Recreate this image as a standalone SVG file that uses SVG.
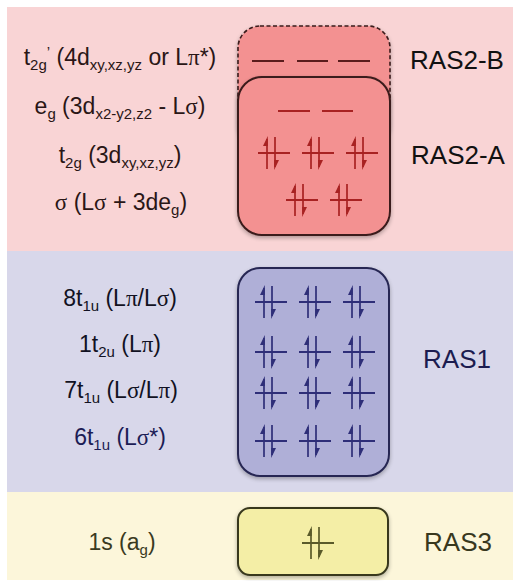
<svg xmlns="http://www.w3.org/2000/svg" xmlns:xlink="http://www.w3.org/1999/xlink" width="515" height="581" viewBox="0 0 515 581">
<style>
  .lbl { font-family: "Liberation Sans", Arial, sans-serif; font-size: 23px; text-anchor: middle; }
  .ras { font-family: "Liberation Sans", Arial, sans-serif; font-size: 26px; text-anchor: middle; }
  .gk { font-family: "Liberation Serif", "Times New Roman", serif; }
  .pink-t { fill: #2a1616; }
  .blue-t { fill: #111122; }
  .navy-t { fill: #1c1c55; }
  .olive-t { fill: #3a3a1e; }
  .box { stroke-width: 2; }
  .lvl { stroke-width: 2; fill: none; }
  .pr { stroke-width: 1.7; }
</style>
<defs>
  <filter id="sh" x="-10%" y="-10%" width="120%" height="125%">
    <feGaussianBlur in="SourceAlpha" stdDeviation="2"/>
    <feOffset dy="2"/>
    <feComponentTransfer><feFuncA type="linear" slope="0.3"/></feComponentTransfer>
    <feMerge><feMergeNode/><feMergeNode in="SourceGraphic"/></feMerge>
  </filter>
  <g id="pair">
    <line x1="-16" y1="0" x2="16" y2="0" stroke-width="2"/>
    <line x1="-7" y1="16" x2="-7" y2="-14"/>
    <polygon points="-6.2,-17 -11,-7 -6.2,-7" stroke="none"/>
    <line x1="1" y1="-16" x2="1" y2="14"/>
    <polygon points="0.2,17 5,7 0.2,7" stroke="none"/>
  </g>
</defs>

<!-- bands -->
<rect x="7" y="7" width="506" height="244" fill="#f9d4d5"/>
<rect x="7" y="251" width="506" height="241" fill="#d8d7ea"/>
<rect x="7" y="492" width="506" height="88" fill="#fcf6da"/>

<!-- RAS2 -->
<g id="ras2b">
  <rect x="238" y="26" width="152" height="120" rx="22" fill="#f39191" stroke="#3a1a1a" stroke-width="1.6" stroke-dasharray="4 2.5" filter="url(#sh)"/>
  <g class="lvl" stroke="#5a1c1c">
    <line x1="252" y1="61" x2="284" y2="61"/>
    <line x1="297" y1="61" x2="328" y2="61"/>
    <line x1="338" y1="61" x2="370" y2="61"/>
  </g>
  <text class="ras" x="457" y="69" fill="#111">RAS2-B</text>
</g>
<g id="ras2a">
  <rect class="box" x="238" y="77" width="152" height="158" rx="24" fill="#f39191" stroke="#3a1a1a" filter="url(#sh)"/>
  <g class="lvl" stroke="#a82222">
    <line x1="278" y1="111" x2="310" y2="111"/>
    <line x1="322" y1="111" x2="353" y2="111"/>
  </g>
  <g class="pr" stroke="#a82222" fill="#a82222">
    <use xlink:href="#pair" x="274" y="153"/>
    <use xlink:href="#pair" x="318" y="153"/>
    <use xlink:href="#pair" x="362" y="153"/>
    <use xlink:href="#pair" x="302" y="200"/>
    <use xlink:href="#pair" x="346" y="200"/>
  </g>
  <text class="ras" x="458" y="164" fill="#111">RAS2-A</text>
</g>
<g id="labels-ras2" class="lbl pink-t">
  <text x="120" y="65">t<tspan font-size="15" dy="5">2g</tspan><tspan font-size="15" dy="-13">’</tspan><tspan dy="8"> (4d</tspan><tspan font-size="15" dy="5">xy,xz,yz</tspan><tspan dy="-5"> or L</tspan><tspan class="gk">π</tspan>*)</text>
  <text x="120" y="114">e<tspan font-size="15" dy="5">g</tspan><tspan dy="-5"> (3d</tspan><tspan font-size="15" dy="5">x2-y2,z2</tspan><tspan dy="-5"> - L</tspan><tspan class="gk">σ</tspan>)</text>
  <text x="120" y="163">t<tspan font-size="15" dy="5">2g</tspan><tspan dy="-5"> (3d</tspan><tspan font-size="15" dy="5">xy,xz,yz</tspan><tspan dy="-5">)</tspan></text>
  <text x="121" y="210"><tspan class="gk">σ</tspan>  (L<tspan class="gk">σ</tspan> + 3de<tspan font-size="15" dy="5">g</tspan><tspan dy="-5">)</tspan></text>
</g>

<!-- RAS1 -->
<g id="ras1">
  <rect class="box" x="238" y="268" width="151" height="208" rx="22" fill="#afafd7" stroke="#262652" filter="url(#sh)"/>
  <g class="pr" stroke="#2e2e78" fill="#2e2e78">
    <use xlink:href="#pair" x="271" y="302"/>
    <use xlink:href="#pair" x="315" y="302"/>
    <use xlink:href="#pair" x="359" y="302"/>
    <use xlink:href="#pair" x="271" y="352"/>
    <use xlink:href="#pair" x="315" y="352"/>
    <use xlink:href="#pair" x="359" y="352"/>
    <use xlink:href="#pair" x="271" y="393"/>
    <use xlink:href="#pair" x="315" y="393"/>
    <use xlink:href="#pair" x="359" y="393"/>
    <use xlink:href="#pair" x="271" y="441"/>
    <use xlink:href="#pair" x="315" y="441"/>
    <use xlink:href="#pair" x="359" y="441"/>
  </g>
  <text class="ras" x="457" y="368" fill="#1c1c50">RAS1</text>
</g>
<g id="labels-ras1" class="lbl">
  <text class="blue-t" x="120" y="306">8t<tspan font-size="15" dy="5">1u</tspan><tspan dy="-5"> (L</tspan><tspan class="gk">π</tspan>/L<tspan class="gk">σ</tspan>)</text>
  <text class="blue-t" x="120" y="352">1t<tspan font-size="15" dy="5">2u</tspan><tspan dy="-5"> (L</tspan><tspan class="gk">π</tspan>)</text>
  <text class="blue-t" x="121" y="398">7t<tspan font-size="15" dy="5">1u</tspan><tspan dy="-5"> (L</tspan><tspan class="gk">σ</tspan>/L<tspan class="gk">π</tspan>)</text>
  <text class="navy-t" x="120" y="445">6t<tspan font-size="15" dy="5">1u</tspan><tspan dy="-5"> (L</tspan><tspan class="gk">σ</tspan>*)</text>
</g>

<!-- RAS3 -->
<g id="ras3">
  <rect class="box" x="238" y="508" width="150" height="67" rx="12" fill="#f4eea6" stroke="#38381e" filter="url(#sh)"/>
  <g class="pr" stroke="#5a5a2a" fill="#5a5a2a">
    <use xlink:href="#pair" x="318" y="543"/>
  </g>
  <text class="ras" x="458" y="551" fill="#38381e">RAS3</text>
</g>
<g id="labels-ras3" class="lbl">
  <text class="olive-t" x="122" y="550">1s (a<tspan font-size="15" dy="5">g</tspan><tspan dy="-5">)</tspan></text>
</g>
</svg>
